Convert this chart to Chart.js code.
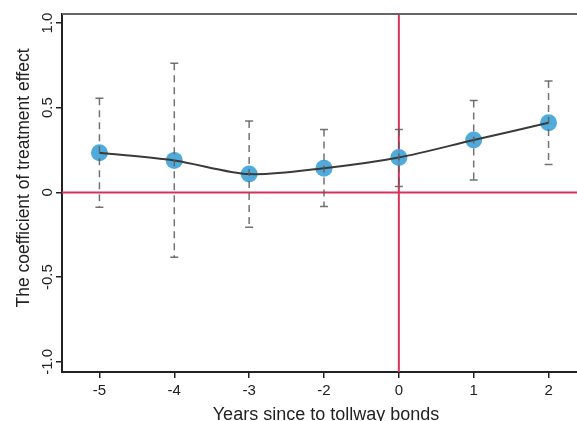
<!DOCTYPE html>
<html>
<head>
<meta charset="utf-8">
<script src="https://cdn.jsdelivr.net/npm/chart.js@4"></script>
<style>
  html, body { margin: 0; padding: 0; background: #fff; overflow: hidden; }
  canvas { display: block; }
</style>
</head>
<body>
<canvas id="chart-coef" width="577" height="421"></canvas>
<script>
// data
var yearLabels = ["-5", "-4", "-3", "-2", "0", "1", "2"];
var coefValues = [0.234, 0.189, 0.108, 0.143, 0.206, 0.309, 0.411];
var upperCI = [0.555, 0.763, 0.421, 0.372, 0.372, 0.543, 0.657];
var lowerCI = [-0.087, -0.382, -0.205, -0.083, 0.035, 0.073, 0.165];
var yTicks = [-1.0, -0.5, 0, 0.5, 1.0];
var zeroYearIndex = 4;
var xTitle = 'Years since to tollway bonds';
var yTitle = 'The coefficient of treatment effect';

var redColor = '#d8325a';
var axisColor = '#222';

var points = coefValues.map(function (v, i) { return { x: i, y: v }; });

// red reference lines, dashed error bars, rotated y labels, titles, top frame line
var errorBars = {
    id: 'errorBars',
    beforeDatasetsDraw: function (chart) {
        var ctx = chart.ctx, x = chart.scales.x, y = chart.scales.y, area = chart.chartArea;
        ctx.save();
        ctx.strokeStyle = redColor;
        ctx.lineWidth = 2;
        ctx.beginPath();
        var y0 = y.getPixelForValue(0);
        ctx.moveTo(area.left, y0);
        ctx.lineTo(area.right, y0);
        var x0 = x.getPixelForValue(zeroYearIndex);
        ctx.moveTo(x0, area.top);
        ctx.lineTo(x0, area.bottom);
        ctx.stroke();
        ctx.restore();
    },
    afterDatasetsDraw: function (chart) {
        var ctx = chart.ctx, x = chart.scales.x, y = chart.scales.y;
        ctx.save();
        ctx.strokeStyle = 'rgba(90,90,90,0.85)';
        ctx.lineWidth = 1.5;
        for (var i = 0; i < coefValues.length; i++) {
            var px = x.getPixelForValue(i);
            var top = y.getPixelForValue(upperCI[i]);
            var bot = y.getPixelForValue(lowerCI[i]);
            ctx.setLineDash([7, 5]);
            ctx.beginPath();
            ctx.moveTo(px, top);
            ctx.lineTo(px, bot);
            ctx.stroke();
            ctx.setLineDash([]);
            ctx.beginPath();
            ctx.moveTo(px - 4, top);
            ctx.lineTo(px + 4, top);
            ctx.moveTo(px - 4, bot);
            ctx.lineTo(px + 4, bot);
            ctx.stroke();
        }
        ctx.restore();
    },
    afterDraw: function (chart) {
        var ctx = chart.ctx, area = chart.chartArea, y = chart.scales.y;
        ctx.save();
        ctx.strokeStyle = '#666';
        ctx.lineWidth = 2;
        ctx.beginPath();
        ctx.moveTo(area.left, area.top);
        ctx.lineTo(area.right, area.top);
        ctx.stroke();

        // y tick labels, rotated and centred on the tick
        ctx.fillStyle = '#222';
        ctx.font = '15px "Liberation Sans"';
        ctx.textAlign = 'center';
        ctx.textBaseline = 'middle';
        yTicks.forEach(function (v) {
            var py = y.getPixelForValue(v);
            ctx.save();
            ctx.translate(48, py);
            ctx.rotate(-Math.PI / 2);
            ctx.fillText(v === 0 ? '0' : v.toFixed(1), 0, 0);
            ctx.restore();
        });

        // axis titles
        ctx.font = '18px "Liberation Sans"';
        ctx.fillText(xTitle, 326, 415);
        ctx.font = '17.5px "Liberation Sans"';
        ctx.translate(24, 178);
        ctx.rotate(-Math.PI / 2);
        ctx.fillText(yTitle, 0, 0);
        ctx.restore();
    }
};

var ctx = document.getElementById('chart-coef').getContext('2d');
new Chart(ctx, {
    type: 'line',
    data: {
        datasets: [{
            label: 'Coefficient line',
            data: points,
            borderColor: '#3a3a3a',
            borderWidth: 2,
            tension: 0.3,
            pointRadius: 0,
            fill: false,
            order: 1
        }, {
            label: 'Coefficient',
            data: points,
            showLine: false,
            pointRadius: 8.5,
            pointHoverRadius: 8.5,
            pointBackgroundColor: 'rgba(62,162,214,0.9)',
            pointBorderWidth: 0,
            order: 2
        }]
    },
    options: {
        responsive: false,
        animation: false,
        layout: { autoPadding: false, padding: { top: 14, right: 0, left: 0, bottom: 0 } },
        plugins: {
            legend: { display: false },
            tooltip: { enabled: false }
        },
        scales: {
            x: {
                type: 'linear',
                min: -0.5,
                max: 6.38,
                afterBuildTicks: function (axis) {
                    axis.ticks = yearLabels.map(function (l, i) { return { value: i }; });
                },
                afterFit: function (axis) {
                    axis.height = 49;
                    axis.paddingLeft = 0;
                    axis.paddingRight = 0;
                },
                grid: {
                    display: true,
                    drawOnChartArea: false,
                    drawTicks: true,
                    tickLength: 6,
                    color: axisColor,
                    lineWidth: 1.5
                },
                border: { display: true, color: axisColor, width: 2 },
                ticks: {
                    color: '#222',
                    padding: 4,
                    maxRotation: 0,
                    autoSkip: false,
                    font: { size: 15, family: 'Liberation Sans' },
                    callback: function (v) { return yearLabels[v]; }
                },
                title: { display: false }
            },
            y: {
                min: -1.06,
                max: 1.053,
                afterBuildTicks: function (axis) {
                    axis.ticks = yTicks.map(function (v) { return { value: v }; });
                },
                afterFit: function (axis) {
                    axis.width = 62;
                    axis.paddingTop = 0;
                    axis.paddingBottom = 0;
                },
                grid: {
                    display: true,
                    drawOnChartArea: false,
                    drawTicks: true,
                    tickLength: 6,
                    color: axisColor,
                    lineWidth: 1.5
                },
                border: { display: true, color: axisColor, width: 2 },
                ticks: {
                    color: 'rgba(0,0,0,0)',
                    padding: 3,
                    font: { size: 15, family: 'Liberation Sans' },
                    callback: function (v) { return v === 0 ? '0' : v.toFixed(1); }
                },
                title: { display: false }
            }
        }
    },
    plugins: [errorBars]
});
</script>
</body>
</html>
